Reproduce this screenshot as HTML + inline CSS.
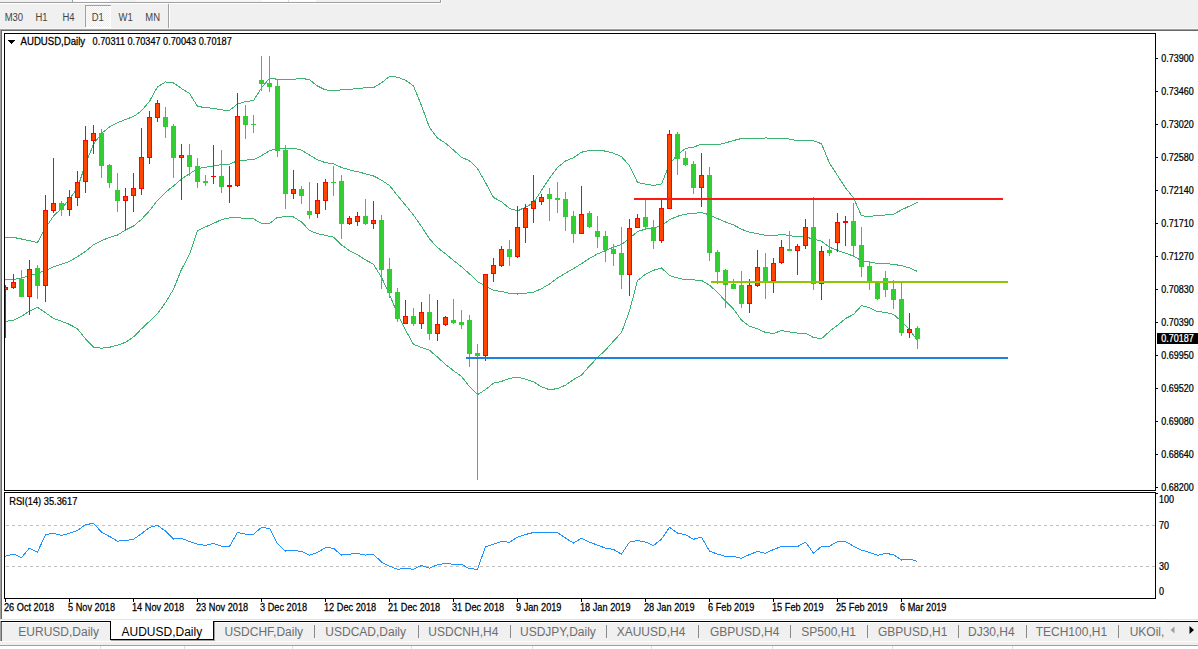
<!DOCTYPE html>
<html><head><meta charset="utf-8"><title>AUDUSD,Daily</title>
<style>
html,body{margin:0;padding:0;background:#f0f0f0;}
body{width:1198px;height:649px;overflow:hidden;position:relative;}
svg{position:absolute;left:0;top:0;display:block;}
text{font-family:'Liberation Sans', Arial, sans-serif;}
</style></head><body>
<svg width="1198" height="649" viewBox="0 0 1198 649" shape-rendering="crispEdges">
<rect x="0" y="0" width="1198" height="29" fill="#f0f0f0"/>
<rect x="0" y="2" width="441" height="1" fill="#a0a0a0"/>
<rect x="0" y="3" width="442" height="1" fill="#ffffff"/>
<rect x="440" y="0" width="1" height="3" fill="#a0a0a0"/>
<rect x="441" y="0" width="1" height="4" fill="#ffffff"/>
<rect x="72" y="0" width="1" height="2" fill="#a0a0a0"/>
<rect x="73" y="0" width="37" height="2" fill="#fbfbfb"/>
<rect x="136" y="0" width="126" height="2" fill="#f6f6f6"/>
<rect x="262" y="0" width="54" height="2" fill="#fdfdfd"/>
<rect x="288" y="0" width="1" height="2" fill="#d8d8d8"/>
<defs><pattern id="chk" x="0" y="0" width="2" height="2" patternUnits="userSpaceOnUse"><rect width="2" height="2" fill="#ffffff"/><rect width="1" height="1" fill="#ececec"/><rect x="1" y="1" width="1" height="1" fill="#ececec"/></pattern></defs>
<rect x="86" y="6" width="25" height="21" fill="url(#chk)"/>
<rect x="85" y="5" width="26" height="1" fill="#a0a0a0"/>
<rect x="85" y="5" width="1" height="22" fill="#a0a0a0"/>
<rect x="86" y="27" width="25" height="1" fill="#ffffff"/>
<rect x="110" y="6" width="1" height="21" fill="#ffffff"/>
<rect x="168" y="4" width="1" height="25" fill="#a0a0a0"/>
<rect x="169" y="4" width="1" height="25" fill="#ffffff"/>
<text transform="translate(4.7,21) scale(0.93,1)" font-size="10.2" fill="#444444" text-anchor="start" >M30</text>
<text transform="translate(35.5,21) scale(0.93,1)" font-size="10.2" fill="#444444" text-anchor="start" >H1</text>
<text transform="translate(62.5,21) scale(0.93,1)" font-size="10.2" fill="#444444" text-anchor="start" >H4</text>
<text transform="translate(91.7,21) scale(0.93,1)" font-size="10.2" fill="#444444" text-anchor="start" >D1</text>
<text transform="translate(118.5,21) scale(0.93,1)" font-size="10.2" fill="#444444" text-anchor="start" >W1</text>
<text transform="translate(145.3,21) scale(0.93,1)" font-size="10.2" fill="#444444" text-anchor="start" >MN</text>
<rect x="0" y="28" width="1198" height="1" fill="#f8f8f8"/>
<rect x="0" y="29" width="1198" height="1" fill="#a0a0a0"/>
<rect x="1" y="30" width="1197" height="1" fill="#696969"/>
<rect x="0" y="29" width="1" height="591" fill="#a0a0a0"/>
<rect x="1" y="30" width="1" height="589" fill="#696969"/>
<rect x="2" y="31" width="1196" height="588" fill="#ffffff"/>
<rect x="4" y="33" width="1152" height="1" fill="#000"/>
<rect x="4" y="490" width="1152" height="1" fill="#000"/>
<rect x="4" y="33" width="1" height="458" fill="#000"/>
<rect x="1155" y="33" width="1" height="458" fill="#000"/>
<rect x="4" y="492" width="1152" height="1" fill="#000"/>
<rect x="4" y="598" width="1152" height="1" fill="#000"/>
<rect x="4" y="492" width="1" height="107" fill="#000"/>
<rect x="1155" y="492" width="1" height="107" fill="#000"/>
<defs><clipPath id="cm"><rect x="5" y="34" width="1150" height="456"/></clipPath><clipPath id="cr"><rect x="5" y="493" width="1150" height="105"/></clipPath></defs>
<g clip-path="url(#cm)">
<polyline points="-2.5,237.4 5.5,237.4 13.5,237.4 21.5,239.0 29.5,240.7 37.5,242.5 45.5,228.0 53.5,216.0 61.5,208.5 69.5,199.0 77.5,188.0 85.5,164.0 93.5,144.4 101.5,133.5 109.5,126.9 117.5,122.8 125.5,119.4 133.5,116.6 141.5,110.9 149.5,101.3 157.5,86.9 165.5,81.9 173.5,82.9 181.5,88.5 189.5,93.4 197.5,106.4 205.5,107.6 213.5,108.3 221.5,109.9 229.5,110.5 237.5,103.9 245.5,101.7 253.5,100.5 261.5,87.9 269.5,78.1 277.5,79.3 285.5,79.5 293.5,79.4 301.5,78.3 309.5,79.7 317.5,86.1 325.5,89.9 333.5,90.7 341.5,89.8 349.5,89.3 357.5,88.6 365.5,87.7 373.5,87.6 381.5,82.8 389.5,76.5 397.5,77.1 405.5,80.3 413.5,85.9 421.5,105.6 429.5,127.5 437.5,138.0 445.5,143.1 453.5,150.1 461.5,157.3 469.5,160.8 477.5,168.5 485.5,182.6 493.5,197.4 501.5,201.7 509.5,208.4 517.5,210.9 525.5,207.2 533.5,202.8 541.5,190.4 549.5,178.2 557.5,167.5 565.5,160.9 573.5,157.7 581.5,152.2 589.5,150.6 597.5,150.3 605.5,151.1 613.5,153.2 621.5,156.6 629.5,165.8 637.5,182.4 645.5,184.1 653.5,185.5 661.5,183.9 669.5,164.0 677.5,154.6 685.5,148.5 693.5,147.1 701.5,144.2 709.5,145.0 717.5,144.9 725.5,142.9 733.5,140.5 741.5,138.5 749.5,138.2 757.5,138.5 765.5,138.0 773.5,138.1 781.5,138.2 789.5,139.1 797.5,140.7 805.5,140.7 813.5,140.7 821.5,143.8 829.5,163.0 837.5,175.5 845.5,187.8 853.5,197.8 861.5,215.8 869.5,216.5 877.5,215.3 885.5,215.0 893.5,214.2 901.5,209.9 909.5,206.1 917.5,202.4" fill="none" stroke="#3cb371" stroke-width="1" shape-rendering="crispEdges"/>
<polyline points="-2.5,279.4 5.5,279.4 13.5,279.4 21.5,278.1 29.5,275.4 37.5,273.4 45.5,270.5 53.5,266.8 61.5,264.1 69.5,261.4 77.5,256.7 85.5,251.4 93.5,244.7 101.5,240.7 109.5,237.4 117.5,235.0 125.5,230.0 133.5,226.0 141.5,219.4 149.5,210.7 157.5,200.3 165.5,192.3 173.5,186.0 181.5,179.0 189.5,173.8 197.5,168.6 205.5,167.2 213.5,165.9 221.5,164.7 229.5,164.1 237.5,160.8 245.5,160.1 253.5,159.7 261.5,155.6 269.5,150.8 277.5,148.3 285.5,148.2 293.5,148.2 301.5,150.2 309.5,155.0 317.5,159.9 325.5,162.7 333.5,163.9 341.5,167.4 349.5,169.9 357.5,171.7 365.5,173.8 373.5,176.0 381.5,180.1 389.5,185.5 397.5,195.6 405.5,205.2 413.5,215.1 421.5,226.5 429.5,238.9 437.5,247.6 445.5,253.7 453.5,260.4 461.5,266.8 469.5,273.8 477.5,281.6 485.5,286.2 493.5,290.3 501.5,291.5 509.5,293.4 517.5,294.0 525.5,293.2 533.5,292.3 541.5,288.7 549.5,284.0 557.5,278.0 565.5,273.1 573.5,268.6 581.5,263.6 589.5,258.3 597.5,253.9 605.5,250.6 613.5,247.1 621.5,244.6 629.5,238.4 637.5,231.5 645.5,229.1 653.5,227.9 661.5,225.9 669.5,219.8 677.5,216.3 685.5,214.1 693.5,213.5 701.5,212.4 709.5,215.0 717.5,218.6 725.5,222.0 733.5,224.8 741.5,229.3 749.5,232.2 757.5,233.7 765.5,235.3 773.5,235.8 781.5,234.4 789.5,235.5 797.5,236.9 805.5,236.9 813.5,239.1 821.5,241.2 829.5,247.2 837.5,250.4 845.5,253.2 853.5,256.1 861.5,260.7 869.5,262.1 877.5,263.5 885.5,263.7 893.5,264.3 901.5,265.7 909.5,267.9 917.5,271.5" fill="none" stroke="#3cb371" stroke-width="1" shape-rendering="crispEdges"/>
<polyline points="-2.5,321.3 5.5,321.3 13.5,320.3 21.5,316.2 29.5,311.2 37.5,307.2 45.5,312.8 53.5,318.3 61.5,321.3 69.5,324.4 77.5,328.8 85.5,338.8 93.5,347.2 101.5,348.2 109.5,347.3 117.5,345.1 125.5,342.3 133.5,336.9 141.5,328.8 149.5,321.3 157.5,313.7 165.5,302.6 173.5,289.2 181.5,269.4 189.5,254.3 197.5,230.8 205.5,226.9 213.5,223.4 221.5,219.6 229.5,217.8 237.5,217.7 245.5,218.4 253.5,218.9 261.5,223.3 269.5,223.5 277.5,217.3 285.5,216.8 293.5,217.0 301.5,222.0 309.5,230.4 317.5,233.7 325.5,235.4 333.5,237.2 341.5,245.0 349.5,250.6 357.5,254.8 365.5,259.8 373.5,264.3 381.5,277.4 389.5,294.4 397.5,314.1 405.5,330.0 413.5,344.4 421.5,347.5 429.5,350.3 437.5,357.1 445.5,364.4 453.5,370.7 461.5,376.4 469.5,386.8 477.5,394.6 485.5,389.7 493.5,383.1 501.5,381.4 509.5,378.4 517.5,377.1 525.5,379.2 533.5,381.8 541.5,386.9 549.5,389.7 557.5,388.6 565.5,385.2 573.5,379.5 581.5,375.1 589.5,366.0 597.5,357.6 605.5,350.1 613.5,341.1 621.5,332.6 629.5,311.0 637.5,280.6 645.5,274.2 653.5,270.3 661.5,267.9 669.5,275.5 677.5,278.0 685.5,279.7 693.5,279.9 701.5,280.5 709.5,285.1 717.5,292.4 725.5,301.2 733.5,309.1 741.5,320.1 749.5,326.2 757.5,328.9 765.5,332.5 773.5,333.4 781.5,330.6 789.5,332.0 797.5,333.1 805.5,333.1 813.5,337.5 821.5,338.7 829.5,331.4 837.5,325.2 845.5,318.6 853.5,314.4 861.5,305.6 869.5,307.7 877.5,311.6 885.5,312.4 893.5,314.3 901.5,321.5 909.5,329.7 917.5,340.6" fill="none" stroke="#3cb371" stroke-width="1" shape-rendering="crispEdges"/>
<rect x="5" y="285" width="1" height="53" fill="#ff0000"/>
<rect x="3" y="287" width="5" height="3" fill="#ff0000"/>
<rect x="4" y="288" width="3" height="1" fill="#ff4500"/>
<rect x="13" y="274" width="1" height="15" fill="#ff0000"/>
<rect x="11" y="282" width="5" height="6" fill="#ff0000"/>
<rect x="12" y="283" width="3" height="4" fill="#ff4500"/>
<rect x="21" y="270" width="1" height="27" fill="#32cd32"/>
<rect x="19" y="279" width="5" height="18" fill="#32cd32"/>
<rect x="29" y="260" width="1" height="55" fill="#ff0000"/>
<rect x="27" y="269" width="5" height="28" fill="#ff0000"/>
<rect x="28" y="270" width="3" height="26" fill="#ff4500"/>
<rect x="37" y="265" width="1" height="34" fill="#32cd32"/>
<rect x="35" y="268" width="5" height="18" fill="#32cd32"/>
<rect x="45" y="195" width="1" height="107" fill="#ff0000"/>
<rect x="43" y="210" width="5" height="76" fill="#ff0000"/>
<rect x="44" y="211" width="3" height="74" fill="#ff4500"/>
<rect x="53" y="158" width="1" height="55" fill="#ff0000"/>
<rect x="51" y="203" width="5" height="8" fill="#ff0000"/>
<rect x="52" y="204" width="3" height="6" fill="#ff4500"/>
<rect x="61" y="201" width="1" height="15" fill="#32cd32"/>
<rect x="59" y="203" width="5" height="7" fill="#32cd32"/>
<rect x="69" y="190" width="1" height="26" fill="#ff0000"/>
<rect x="67" y="197" width="5" height="13" fill="#ff0000"/>
<rect x="68" y="198" width="3" height="11" fill="#ff4500"/>
<rect x="77" y="171" width="1" height="35" fill="#ff0000"/>
<rect x="75" y="182" width="5" height="16" fill="#ff0000"/>
<rect x="76" y="183" width="3" height="14" fill="#ff4500"/>
<rect x="85" y="126" width="1" height="67" fill="#ff0000"/>
<rect x="83" y="140" width="5" height="42" fill="#ff0000"/>
<rect x="84" y="141" width="3" height="40" fill="#ff4500"/>
<rect x="93" y="125" width="1" height="29" fill="#ff0000"/>
<rect x="91" y="133" width="5" height="8" fill="#ff0000"/>
<rect x="92" y="134" width="3" height="6" fill="#ff4500"/>
<rect x="101" y="129" width="1" height="49" fill="#32cd32"/>
<rect x="99" y="133" width="5" height="33" fill="#32cd32"/>
<rect x="109" y="164" width="1" height="24" fill="#32cd32"/>
<rect x="107" y="165" width="5" height="18" fill="#32cd32"/>
<rect x="117" y="173" width="1" height="39" fill="#32cd32"/>
<rect x="115" y="190" width="5" height="11" fill="#32cd32"/>
<rect x="125" y="188" width="1" height="42" fill="#ff0000"/>
<rect x="123" y="196" width="5" height="5" fill="#ff0000"/>
<rect x="124" y="197" width="3" height="3" fill="#ff4500"/>
<rect x="133" y="173" width="1" height="39" fill="#ff0000"/>
<rect x="131" y="188" width="5" height="8" fill="#ff0000"/>
<rect x="132" y="189" width="3" height="6" fill="#ff4500"/>
<rect x="141" y="128" width="1" height="67" fill="#ff0000"/>
<rect x="139" y="157" width="5" height="32" fill="#ff0000"/>
<rect x="140" y="158" width="3" height="30" fill="#ff4500"/>
<rect x="149" y="111" width="1" height="53" fill="#ff0000"/>
<rect x="147" y="117" width="5" height="41" fill="#ff0000"/>
<rect x="148" y="118" width="3" height="39" fill="#ff4500"/>
<rect x="157" y="100" width="1" height="22" fill="#ff0000"/>
<rect x="155" y="103" width="5" height="15" fill="#ff0000"/>
<rect x="156" y="104" width="3" height="13" fill="#ff4500"/>
<rect x="165" y="107" width="1" height="31" fill="#32cd32"/>
<rect x="163" y="117" width="5" height="10" fill="#32cd32"/>
<rect x="173" y="124" width="1" height="54" fill="#32cd32"/>
<rect x="171" y="126" width="5" height="32" fill="#32cd32"/>
<rect x="181" y="144" width="1" height="56" fill="#ff0000"/>
<rect x="179" y="155" width="5" height="3" fill="#ff0000"/>
<rect x="180" y="156" width="3" height="1" fill="#ff4500"/>
<rect x="189" y="144" width="1" height="32" fill="#32cd32"/>
<rect x="187" y="155" width="5" height="12" fill="#32cd32"/>
<rect x="197" y="158" width="1" height="30" fill="#32cd32"/>
<rect x="195" y="166" width="5" height="16" fill="#32cd32"/>
<rect x="205" y="175" width="1" height="11" fill="#32cd32"/>
<rect x="203" y="181" width="5" height="2" fill="#32cd32"/>
<rect x="213" y="145" width="1" height="39" fill="#ff0000"/>
<rect x="211" y="176" width="5" height="1" fill="#ff0000"/>
<rect x="221" y="150" width="1" height="43" fill="#32cd32"/>
<rect x="219" y="176" width="5" height="11" fill="#32cd32"/>
<rect x="229" y="166" width="1" height="37" fill="#ff0000"/>
<rect x="227" y="185" width="5" height="2" fill="#ff0000"/>
<rect x="237" y="93" width="1" height="94" fill="#ff0000"/>
<rect x="235" y="116" width="5" height="70" fill="#ff0000"/>
<rect x="236" y="117" width="3" height="68" fill="#ff4500"/>
<rect x="245" y="105" width="1" height="34" fill="#32cd32"/>
<rect x="243" y="116" width="5" height="9" fill="#32cd32"/>
<rect x="253" y="115" width="1" height="18" fill="#32cd32"/>
<rect x="251" y="124" width="5" height="1" fill="#32cd32"/>
<rect x="261" y="56" width="1" height="35" fill="#32cd32"/>
<rect x="259" y="80" width="5" height="4" fill="#32cd32"/>
<rect x="269" y="56" width="1" height="36" fill="#32cd32"/>
<rect x="267" y="83" width="5" height="4" fill="#32cd32"/>
<rect x="277" y="79" width="1" height="78" fill="#32cd32"/>
<rect x="275" y="86" width="5" height="65" fill="#32cd32"/>
<rect x="285" y="145" width="1" height="64" fill="#32cd32"/>
<rect x="283" y="150" width="5" height="44" fill="#32cd32"/>
<rect x="293" y="170" width="1" height="29" fill="#ff0000"/>
<rect x="291" y="189" width="5" height="5" fill="#ff0000"/>
<rect x="292" y="190" width="3" height="3" fill="#ff4500"/>
<rect x="301" y="186" width="1" height="18" fill="#32cd32"/>
<rect x="299" y="189" width="5" height="7" fill="#32cd32"/>
<rect x="309" y="182" width="1" height="37" fill="#32cd32"/>
<rect x="307" y="211" width="5" height="4" fill="#32cd32"/>
<rect x="317" y="183" width="1" height="35" fill="#ff0000"/>
<rect x="315" y="200" width="5" height="14" fill="#ff0000"/>
<rect x="316" y="201" width="3" height="12" fill="#ff4500"/>
<rect x="325" y="179" width="1" height="31" fill="#ff0000"/>
<rect x="323" y="182" width="5" height="19" fill="#ff0000"/>
<rect x="324" y="183" width="3" height="17" fill="#ff4500"/>
<rect x="333" y="166" width="1" height="30" fill="#32cd32"/>
<rect x="331" y="182" width="5" height="1" fill="#32cd32"/>
<rect x="341" y="175" width="1" height="64" fill="#32cd32"/>
<rect x="339" y="181" width="5" height="43" fill="#32cd32"/>
<rect x="349" y="216" width="1" height="9" fill="#ff0000"/>
<rect x="347" y="218" width="5" height="6" fill="#ff0000"/>
<rect x="348" y="219" width="3" height="4" fill="#ff4500"/>
<rect x="357" y="212" width="1" height="14" fill="#ff0000"/>
<rect x="355" y="216" width="5" height="6" fill="#ff0000"/>
<rect x="356" y="217" width="3" height="4" fill="#ff4500"/>
<rect x="365" y="199" width="1" height="26" fill="#32cd32"/>
<rect x="363" y="216" width="5" height="8" fill="#32cd32"/>
<rect x="373" y="201" width="1" height="28" fill="#ff0000"/>
<rect x="371" y="220" width="5" height="4" fill="#ff0000"/>
<rect x="372" y="221" width="3" height="2" fill="#ff4500"/>
<rect x="381" y="215" width="1" height="74" fill="#32cd32"/>
<rect x="379" y="220" width="5" height="50" fill="#32cd32"/>
<rect x="389" y="258" width="1" height="40" fill="#32cd32"/>
<rect x="387" y="269" width="5" height="24" fill="#32cd32"/>
<rect x="397" y="288" width="1" height="34" fill="#32cd32"/>
<rect x="395" y="292" width="5" height="27" fill="#32cd32"/>
<rect x="405" y="300" width="1" height="24" fill="#ff0000"/>
<rect x="403" y="316" width="5" height="8" fill="#ff0000"/>
<rect x="404" y="317" width="3" height="6" fill="#ff4500"/>
<rect x="413" y="308" width="1" height="18" fill="#32cd32"/>
<rect x="411" y="316" width="5" height="8" fill="#32cd32"/>
<rect x="421" y="302" width="1" height="27" fill="#ff0000"/>
<rect x="419" y="312" width="5" height="12" fill="#ff0000"/>
<rect x="420" y="313" width="3" height="10" fill="#ff4500"/>
<rect x="429" y="294" width="1" height="46" fill="#32cd32"/>
<rect x="427" y="312" width="5" height="22" fill="#32cd32"/>
<rect x="437" y="300" width="1" height="41" fill="#ff0000"/>
<rect x="435" y="324" width="5" height="10" fill="#ff0000"/>
<rect x="436" y="325" width="3" height="8" fill="#ff4500"/>
<rect x="445" y="316" width="1" height="10" fill="#ff0000"/>
<rect x="443" y="317" width="5" height="8" fill="#ff0000"/>
<rect x="444" y="318" width="3" height="6" fill="#ff4500"/>
<rect x="453" y="299" width="1" height="25" fill="#32cd32"/>
<rect x="451" y="320" width="5" height="3" fill="#32cd32"/>
<rect x="461" y="310" width="1" height="19" fill="#32cd32"/>
<rect x="459" y="322" width="5" height="3" fill="#32cd32"/>
<rect x="469" y="315" width="1" height="52" fill="#32cd32"/>
<rect x="467" y="320" width="5" height="34" fill="#32cd32"/>
<rect x="477" y="344" width="1" height="136" fill="#32cd32"/>
<rect x="475" y="353" width="5" height="3" fill="#32cd32"/>
<rect x="485" y="274" width="1" height="87" fill="#ff0000"/>
<rect x="483" y="274" width="5" height="82" fill="#ff0000"/>
<rect x="484" y="275" width="3" height="80" fill="#ff4500"/>
<rect x="493" y="258" width="1" height="24" fill="#ff0000"/>
<rect x="491" y="265" width="5" height="9" fill="#ff0000"/>
<rect x="492" y="266" width="3" height="7" fill="#ff4500"/>
<rect x="501" y="246" width="1" height="21" fill="#ff0000"/>
<rect x="499" y="249" width="5" height="17" fill="#ff0000"/>
<rect x="500" y="250" width="3" height="15" fill="#ff4500"/>
<rect x="509" y="240" width="1" height="26" fill="#32cd32"/>
<rect x="507" y="249" width="5" height="8" fill="#32cd32"/>
<rect x="517" y="206" width="1" height="52" fill="#ff0000"/>
<rect x="515" y="227" width="5" height="30" fill="#ff0000"/>
<rect x="516" y="228" width="3" height="28" fill="#ff4500"/>
<rect x="525" y="204" width="1" height="39" fill="#ff0000"/>
<rect x="523" y="208" width="5" height="20" fill="#ff0000"/>
<rect x="524" y="209" width="3" height="18" fill="#ff4500"/>
<rect x="533" y="175" width="1" height="48" fill="#ff0000"/>
<rect x="531" y="201" width="5" height="8" fill="#ff0000"/>
<rect x="532" y="202" width="3" height="6" fill="#ff4500"/>
<rect x="541" y="194" width="1" height="11" fill="#ff0000"/>
<rect x="539" y="197" width="5" height="5" fill="#ff0000"/>
<rect x="540" y="198" width="3" height="3" fill="#ff4500"/>
<rect x="549" y="188" width="1" height="33" fill="#32cd32"/>
<rect x="547" y="194" width="5" height="5" fill="#32cd32"/>
<rect x="557" y="182" width="1" height="31" fill="#32cd32"/>
<rect x="555" y="198" width="5" height="2" fill="#32cd32"/>
<rect x="565" y="192" width="1" height="39" fill="#32cd32"/>
<rect x="563" y="199" width="5" height="18" fill="#32cd32"/>
<rect x="573" y="211" width="1" height="32" fill="#32cd32"/>
<rect x="571" y="216" width="5" height="18" fill="#32cd32"/>
<rect x="581" y="186" width="1" height="48" fill="#ff0000"/>
<rect x="579" y="214" width="5" height="20" fill="#ff0000"/>
<rect x="580" y="215" width="3" height="18" fill="#ff4500"/>
<rect x="589" y="211" width="1" height="17" fill="#32cd32"/>
<rect x="587" y="213" width="5" height="14" fill="#32cd32"/>
<rect x="597" y="216" width="1" height="32" fill="#32cd32"/>
<rect x="595" y="231" width="5" height="6" fill="#32cd32"/>
<rect x="605" y="231" width="1" height="31" fill="#32cd32"/>
<rect x="603" y="236" width="5" height="14" fill="#32cd32"/>
<rect x="613" y="244" width="1" height="22" fill="#32cd32"/>
<rect x="611" y="249" width="5" height="5" fill="#32cd32"/>
<rect x="621" y="227" width="1" height="62" fill="#32cd32"/>
<rect x="619" y="253" width="5" height="22" fill="#32cd32"/>
<rect x="629" y="219" width="1" height="77" fill="#ff0000"/>
<rect x="627" y="228" width="5" height="47" fill="#ff0000"/>
<rect x="628" y="229" width="3" height="45" fill="#ff4500"/>
<rect x="637" y="214" width="1" height="14" fill="#ff0000"/>
<rect x="635" y="218" width="5" height="10" fill="#ff0000"/>
<rect x="636" y="219" width="3" height="8" fill="#ff4500"/>
<rect x="645" y="200" width="1" height="29" fill="#32cd32"/>
<rect x="643" y="217" width="5" height="10" fill="#32cd32"/>
<rect x="653" y="220" width="1" height="29" fill="#32cd32"/>
<rect x="651" y="227" width="5" height="14" fill="#32cd32"/>
<rect x="661" y="199" width="1" height="44" fill="#ff0000"/>
<rect x="659" y="208" width="5" height="33" fill="#ff0000"/>
<rect x="660" y="209" width="3" height="31" fill="#ff4500"/>
<rect x="669" y="130" width="1" height="79" fill="#ff0000"/>
<rect x="667" y="134" width="5" height="75" fill="#ff0000"/>
<rect x="668" y="135" width="3" height="73" fill="#ff4500"/>
<rect x="677" y="132" width="1" height="43" fill="#32cd32"/>
<rect x="675" y="134" width="5" height="25" fill="#32cd32"/>
<rect x="685" y="151" width="1" height="15" fill="#32cd32"/>
<rect x="683" y="158" width="5" height="7" fill="#32cd32"/>
<rect x="693" y="161" width="1" height="33" fill="#32cd32"/>
<rect x="691" y="164" width="5" height="24" fill="#32cd32"/>
<rect x="701" y="153" width="1" height="54" fill="#ff0000"/>
<rect x="699" y="175" width="5" height="13" fill="#ff0000"/>
<rect x="700" y="176" width="3" height="11" fill="#ff4500"/>
<rect x="709" y="167" width="1" height="94" fill="#32cd32"/>
<rect x="707" y="175" width="5" height="78" fill="#32cd32"/>
<rect x="717" y="250" width="1" height="34" fill="#32cd32"/>
<rect x="715" y="252" width="5" height="20" fill="#32cd32"/>
<rect x="725" y="269" width="1" height="39" fill="#32cd32"/>
<rect x="723" y="270" width="5" height="15" fill="#32cd32"/>
<rect x="733" y="279" width="1" height="10" fill="#32cd32"/>
<rect x="731" y="284" width="5" height="5" fill="#32cd32"/>
<rect x="741" y="271" width="1" height="37" fill="#32cd32"/>
<rect x="739" y="285" width="5" height="19" fill="#32cd32"/>
<rect x="749" y="279" width="1" height="34" fill="#ff0000"/>
<rect x="747" y="285" width="5" height="19" fill="#ff0000"/>
<rect x="748" y="286" width="3" height="17" fill="#ff4500"/>
<rect x="757" y="250" width="1" height="37" fill="#ff0000"/>
<rect x="755" y="267" width="5" height="19" fill="#ff0000"/>
<rect x="756" y="268" width="3" height="17" fill="#ff4500"/>
<rect x="765" y="253" width="1" height="46" fill="#32cd32"/>
<rect x="763" y="267" width="5" height="14" fill="#32cd32"/>
<rect x="773" y="258" width="1" height="35" fill="#ff0000"/>
<rect x="771" y="263" width="5" height="18" fill="#ff0000"/>
<rect x="772" y="264" width="3" height="16" fill="#ff4500"/>
<rect x="781" y="240" width="1" height="24" fill="#ff0000"/>
<rect x="779" y="247" width="5" height="16" fill="#ff0000"/>
<rect x="780" y="248" width="3" height="14" fill="#ff4500"/>
<rect x="789" y="231" width="1" height="20" fill="#32cd32"/>
<rect x="787" y="249" width="5" height="2" fill="#32cd32"/>
<rect x="797" y="244" width="1" height="31" fill="#ff0000"/>
<rect x="795" y="246" width="5" height="5" fill="#ff0000"/>
<rect x="796" y="247" width="3" height="3" fill="#ff4500"/>
<rect x="805" y="219" width="1" height="30" fill="#ff0000"/>
<rect x="803" y="227" width="5" height="19" fill="#ff0000"/>
<rect x="804" y="228" width="3" height="17" fill="#ff4500"/>
<rect x="813" y="197" width="1" height="93" fill="#32cd32"/>
<rect x="811" y="227" width="5" height="57" fill="#32cd32"/>
<rect x="821" y="246" width="1" height="54" fill="#ff0000"/>
<rect x="819" y="251" width="5" height="33" fill="#ff0000"/>
<rect x="820" y="252" width="3" height="31" fill="#ff4500"/>
<rect x="829" y="239" width="1" height="17" fill="#32cd32"/>
<rect x="827" y="250" width="5" height="3" fill="#32cd32"/>
<rect x="837" y="213" width="1" height="39" fill="#ff0000"/>
<rect x="835" y="222" width="5" height="21" fill="#ff0000"/>
<rect x="836" y="223" width="3" height="19" fill="#ff4500"/>
<rect x="845" y="216" width="1" height="30" fill="#ff0000"/>
<rect x="843" y="221" width="5" height="2" fill="#ff0000"/>
<rect x="853" y="203" width="1" height="53" fill="#32cd32"/>
<rect x="851" y="221" width="5" height="25" fill="#32cd32"/>
<rect x="861" y="227" width="1" height="50" fill="#32cd32"/>
<rect x="859" y="245" width="5" height="22" fill="#32cd32"/>
<rect x="869" y="261" width="1" height="29" fill="#32cd32"/>
<rect x="867" y="266" width="5" height="15" fill="#32cd32"/>
<rect x="877" y="281" width="1" height="19" fill="#32cd32"/>
<rect x="875" y="283" width="5" height="16" fill="#32cd32"/>
<rect x="885" y="271" width="1" height="26" fill="#32cd32"/>
<rect x="883" y="278" width="5" height="12" fill="#32cd32"/>
<rect x="893" y="280" width="1" height="29" fill="#32cd32"/>
<rect x="891" y="289" width="5" height="11" fill="#32cd32"/>
<rect x="901" y="283" width="1" height="53" fill="#32cd32"/>
<rect x="899" y="299" width="5" height="34" fill="#32cd32"/>
<rect x="909" y="313" width="1" height="25" fill="#ff0000"/>
<rect x="907" y="329" width="5" height="4" fill="#ff0000"/>
<rect x="908" y="330" width="3" height="2" fill="#ff4500"/>
<rect x="917" y="326" width="1" height="23" fill="#32cd32"/>
<rect x="915" y="328" width="5" height="11" fill="#32cd32"/>
</g>
<rect x="634" y="198" width="369" height="2" fill="#ff1a1a"/>
<rect x="711" y="281" width="297" height="2" fill="#8fc400"/>
<rect x="466" y="357" width="542" height="2" fill="#1e82dc"/>
<path d="M8,40 L15,40 L11.5,44 Z" fill="#000"/>
<text transform="translate(20.6,45) scale(0.96,1)" font-size="10.0" fill="#000" text-anchor="start" stroke="#000" stroke-width="0.25">AUDUSD,Daily</text>
<text transform="translate(92.6,45) scale(0.915,1)" font-size="10.0" fill="#000" text-anchor="start" stroke="#000" stroke-width="0.25">0.70311 0.70347 0.70043 0.70187</text>
<rect x="1156" y="58" width="2" height="1" fill="#000"/>
<text transform="translate(1161.2,62) scale(0.9,1)" font-size="10.0" fill="#000" text-anchor="start" stroke="#000" stroke-width="0.25">0.73900</text>
<rect x="1156" y="91" width="2" height="1" fill="#000"/>
<text transform="translate(1161.2,95) scale(0.9,1)" font-size="10.0" fill="#000" text-anchor="start" stroke="#000" stroke-width="0.25">0.73460</text>
<rect x="1156" y="124" width="2" height="1" fill="#000"/>
<text transform="translate(1161.2,128) scale(0.9,1)" font-size="10.0" fill="#000" text-anchor="start" stroke="#000" stroke-width="0.25">0.73020</text>
<rect x="1156" y="157" width="2" height="1" fill="#000"/>
<text transform="translate(1161.2,161) scale(0.9,1)" font-size="10.0" fill="#000" text-anchor="start" stroke="#000" stroke-width="0.25">0.72580</text>
<rect x="1156" y="190" width="2" height="1" fill="#000"/>
<text transform="translate(1161.2,194) scale(0.9,1)" font-size="10.0" fill="#000" text-anchor="start" stroke="#000" stroke-width="0.25">0.72140</text>
<rect x="1156" y="223" width="2" height="1" fill="#000"/>
<text transform="translate(1161.2,227) scale(0.9,1)" font-size="10.0" fill="#000" text-anchor="start" stroke="#000" stroke-width="0.25">0.71710</text>
<rect x="1156" y="256" width="2" height="1" fill="#000"/>
<text transform="translate(1161.2,260) scale(0.9,1)" font-size="10.0" fill="#000" text-anchor="start" stroke="#000" stroke-width="0.25">0.71270</text>
<rect x="1156" y="289" width="2" height="1" fill="#000"/>
<text transform="translate(1161.2,293) scale(0.9,1)" font-size="10.0" fill="#000" text-anchor="start" stroke="#000" stroke-width="0.25">0.70830</text>
<rect x="1156" y="322" width="2" height="1" fill="#000"/>
<text transform="translate(1161.2,326) scale(0.9,1)" font-size="10.0" fill="#000" text-anchor="start" stroke="#000" stroke-width="0.25">0.70390</text>
<rect x="1156" y="355" width="2" height="1" fill="#000"/>
<text transform="translate(1161.2,359) scale(0.9,1)" font-size="10.0" fill="#000" text-anchor="start" stroke="#000" stroke-width="0.25">0.69950</text>
<rect x="1156" y="388" width="2" height="1" fill="#000"/>
<text transform="translate(1161.2,392) scale(0.9,1)" font-size="10.0" fill="#000" text-anchor="start" stroke="#000" stroke-width="0.25">0.69520</text>
<rect x="1156" y="421" width="2" height="1" fill="#000"/>
<text transform="translate(1161.2,425) scale(0.9,1)" font-size="10.0" fill="#000" text-anchor="start" stroke="#000" stroke-width="0.25">0.69080</text>
<rect x="1156" y="454" width="2" height="1" fill="#000"/>
<text transform="translate(1161.2,458) scale(0.9,1)" font-size="10.0" fill="#000" text-anchor="start" stroke="#000" stroke-width="0.25">0.68640</text>
<rect x="1156" y="487" width="2" height="1" fill="#000"/>
<text transform="translate(1161.2,491) scale(0.9,1)" font-size="10.0" fill="#000" text-anchor="start" stroke="#000" stroke-width="0.25">0.68200</text>
<rect x="1157" y="333" width="41" height="11" fill="#000"/>
<text transform="translate(1161.2,342) scale(0.9,1)" font-size="10.0" fill="#fff" text-anchor="start" stroke="#fff" stroke-width="0.25">0.70187</text>
<line x1="6" y1="525.5" x2="1155" y2="525.5" stroke="#c0c0c0" stroke-width="1" stroke-dasharray="3,3" shape-rendering="crispEdges"/>
<line x1="6" y1="566.5" x2="1155" y2="566.5" stroke="#c0c0c0" stroke-width="1" stroke-dasharray="3,3" shape-rendering="crispEdges"/>
<g clip-path="url(#cr)">
<polyline points="-2.5,557.1 5.5,556.1 13.5,554.1 21.5,557.5 29.5,548.1 37.5,552.1 45.5,534.7 53.5,533.3 61.5,535.3 69.5,533.3 77.5,530.5 85.5,524.6 93.5,523.4 101.5,532.1 109.5,536.5 117.5,541.1 125.5,540.5 133.5,539.3 141.5,533.7 149.5,527.4 157.5,525.4 165.5,531.1 173.5,539.1 181.5,538.3 189.5,541.5 197.5,544.3 205.5,545.3 213.5,543.3 221.5,546.3 229.5,546.3 237.5,532.5 245.5,534.1 253.5,534.3 261.5,527.4 269.5,528.4 277.5,543.7 285.5,551.1 293.5,550.3 301.5,551.5 309.5,555.1 317.5,552.5 325.5,547.5 333.5,548.3 341.5,555.1 349.5,554.1 357.5,553.5 365.5,555.1 373.5,554.3 381.5,562.1 389.5,566.1 397.5,569.3 405.5,568.5 413.5,569.3 421.5,565.5 429.5,568.3 437.5,564.7 445.5,563.5 453.5,564.3 461.5,564.3 469.5,568.9 477.5,569.1 485.5,546.7 493.5,544.3 501.5,541.5 509.5,542.3 517.5,537.1 525.5,534.5 533.5,532.5 541.5,532.5 549.5,532.5 557.5,532.5 565.5,538.1 573.5,543.1 581.5,538.3 589.5,542.1 597.5,545.1 605.5,548.1 613.5,549.5 621.5,554.1 629.5,542.1 637.5,540.5 645.5,542.1 653.5,545.5 661.5,539.1 669.5,527.4 677.5,533.1 685.5,534.7 693.5,539.3 701.5,537.1 709.5,551.1 717.5,554.1 725.5,556.3 733.5,556.3 741.5,558.3 749.5,554.5 757.5,551.5 765.5,553.3 773.5,549.5 781.5,546.5 789.5,546.5 797.5,546.5 805.5,542.1 813.5,553.1 821.5,546.5 829.5,546.3 837.5,541.5 845.5,541.5 853.5,546.1 861.5,550.1 869.5,552.3 877.5,555.3 885.5,553.3 893.5,554.7 901.5,560.1 909.5,559.1 917.5,561.3" fill="none" stroke="#1e90ff" stroke-width="1" shape-rendering="crispEdges"/>
</g>
<text transform="translate(9.2,505) scale(0.93,1)" font-size="10.0" fill="#000" text-anchor="start" stroke="#000" stroke-width="0.25">RSI(14) 35.3617</text>
<rect x="1156" y="493" width="2" height="1" fill="#000"/>
<text transform="translate(1159,503) scale(0.9,1)" font-size="10.0" fill="#000" text-anchor="start" stroke="#000" stroke-width="0.25">100</text>
<text transform="translate(1159,529) scale(0.9,1)" font-size="10.0" fill="#000" text-anchor="start" stroke="#000" stroke-width="0.25">70</text>
<text transform="translate(1159,570) scale(0.9,1)" font-size="10.0" fill="#000" text-anchor="start" stroke="#000" stroke-width="0.25">30</text>
<text transform="translate(1159,595) scale(0.9,1)" font-size="10.0" fill="#000" text-anchor="start" stroke="#000" stroke-width="0.25">0</text>
<rect x="5" y="599" width="1" height="3" fill="#000"/>
<text transform="translate(4,611) scale(0.92,1)" font-size="10.0" fill="#000" text-anchor="start" stroke="#000" stroke-width="0.25">26 Oct 2018</text>
<rect x="69" y="599" width="1" height="3" fill="#000"/>
<text transform="translate(68,611) scale(0.92,1)" font-size="10.0" fill="#000" text-anchor="start" stroke="#000" stroke-width="0.25">5 Nov 2018</text>
<rect x="133" y="599" width="1" height="3" fill="#000"/>
<text transform="translate(132,611) scale(0.92,1)" font-size="10.0" fill="#000" text-anchor="start" stroke="#000" stroke-width="0.25">14 Nov 2018</text>
<rect x="197" y="599" width="1" height="3" fill="#000"/>
<text transform="translate(196,611) scale(0.92,1)" font-size="10.0" fill="#000" text-anchor="start" stroke="#000" stroke-width="0.25">23 Nov 2018</text>
<rect x="261" y="599" width="1" height="3" fill="#000"/>
<text transform="translate(260,611) scale(0.92,1)" font-size="10.0" fill="#000" text-anchor="start" stroke="#000" stroke-width="0.25">3 Dec 2018</text>
<rect x="325" y="599" width="1" height="3" fill="#000"/>
<text transform="translate(324,611) scale(0.92,1)" font-size="10.0" fill="#000" text-anchor="start" stroke="#000" stroke-width="0.25">12 Dec 2018</text>
<rect x="389" y="599" width="1" height="3" fill="#000"/>
<text transform="translate(388,611) scale(0.92,1)" font-size="10.0" fill="#000" text-anchor="start" stroke="#000" stroke-width="0.25">21 Dec 2018</text>
<rect x="453" y="599" width="1" height="3" fill="#000"/>
<text transform="translate(452,611) scale(0.92,1)" font-size="10.0" fill="#000" text-anchor="start" stroke="#000" stroke-width="0.25">31 Dec 2018</text>
<rect x="517" y="599" width="1" height="3" fill="#000"/>
<text transform="translate(516,611) scale(0.92,1)" font-size="10.0" fill="#000" text-anchor="start" stroke="#000" stroke-width="0.25">9 Jan 2019</text>
<rect x="581" y="599" width="1" height="3" fill="#000"/>
<text transform="translate(580,611) scale(0.92,1)" font-size="10.0" fill="#000" text-anchor="start" stroke="#000" stroke-width="0.25">18 Jan 2019</text>
<rect x="645" y="599" width="1" height="3" fill="#000"/>
<text transform="translate(644,611) scale(0.92,1)" font-size="10.0" fill="#000" text-anchor="start" stroke="#000" stroke-width="0.25">28 Jan 2019</text>
<rect x="709" y="599" width="1" height="3" fill="#000"/>
<text transform="translate(708,611) scale(0.92,1)" font-size="10.0" fill="#000" text-anchor="start" stroke="#000" stroke-width="0.25">6 Feb 2019</text>
<rect x="773" y="599" width="1" height="3" fill="#000"/>
<text transform="translate(772,611) scale(0.92,1)" font-size="10.0" fill="#000" text-anchor="start" stroke="#000" stroke-width="0.25">15 Feb 2019</text>
<rect x="837" y="599" width="1" height="3" fill="#000"/>
<text transform="translate(836,611) scale(0.92,1)" font-size="10.0" fill="#000" text-anchor="start" stroke="#000" stroke-width="0.25">25 Feb 2019</text>
<rect x="901" y="599" width="1" height="3" fill="#000"/>
<text transform="translate(900,611) scale(0.92,1)" font-size="10.0" fill="#000" text-anchor="start" stroke="#000" stroke-width="0.25">6 Mar 2019</text>
<rect x="0" y="619" width="1198" height="1" fill="#e3e3e3"/>
<rect x="0" y="620" width="1198" height="1" fill="#ffffff"/>
<rect x="0" y="621" width="1198" height="20" fill="#f0f0f0"/>
<rect x="0" y="621" width="1198" height="1" fill="#000"/>
<rect x="0" y="622" width="1198" height="1" fill="#ffffff"/>
<rect x="0" y="621" width="1" height="20" fill="#a0a0a0"/>
<rect x="1" y="622" width="1" height="19" fill="#696969"/>
<rect x="110" y="621" width="104" height="19" fill="#fff"/>
<rect x="110" y="621" width="1" height="19" fill="#000"/>
<rect x="213" y="621" width="1" height="19" fill="#000"/>
<rect x="110" y="639" width="104" height="1" fill="#000"/>
<rect x="214" y="622" width="1" height="19" fill="#a0a0a0"/>
<rect x="111" y="640" width="104" height="1" fill="#a0a0a0"/>
<rect x="0" y="641" width="1198" height="4" fill="#f0f0f0"/>
<rect x="0" y="641" width="1198" height="1" fill="#fcfcfc"/>
<rect x="0" y="645" width="1198" height="1" fill="#a0a0a0"/>
<rect x="0" y="646" width="1198" height="3" fill="#ffffff"/>
<rect x="100" y="646" width="1" height="3" fill="#e0e0e0"/>
<rect x="184" y="646" width="1" height="3" fill="#e0e0e0"/>
<rect x="292" y="646" width="1" height="3" fill="#e0e0e0"/>
<rect x="411" y="646" width="1" height="3" fill="#e0e0e0"/>
<rect x="532" y="646" width="1" height="3" fill="#e0e0e0"/>
<rect x="651" y="646" width="1" height="3" fill="#e0e0e0"/>
<rect x="772" y="646" width="1" height="3" fill="#e0e0e0"/>
<rect x="892" y="646" width="1" height="3" fill="#e0e0e0"/>
<rect x="1012" y="646" width="1" height="3" fill="#e0e0e0"/>
<text x="18.3" y="636" font-size="12" fill="#6d6d6d" text-anchor="start" >EURUSD,Daily</text>
<text x="121.5" y="636" font-size="12" fill="#000" text-anchor="start" >AUDUSD,Daily</text>
<text x="224.4" y="636" font-size="12" fill="#6d6d6d" text-anchor="start" >USDCHF,Daily</text>
<rect x="314" y="625" width="1" height="13" fill="#8a8a8a"/>
<text x="325.3" y="636" font-size="12" fill="#6d6d6d" text-anchor="start" >USDCAD,Daily</text>
<rect x="418" y="625" width="1" height="13" fill="#8a8a8a"/>
<text x="428.3" y="636" font-size="12" fill="#6d6d6d" text-anchor="start" >USDCNH,H4</text>
<rect x="510" y="625" width="1" height="13" fill="#8a8a8a"/>
<text x="520" y="636" font-size="12" fill="#6d6d6d" text-anchor="start" >USDJPY,Daily</text>
<rect x="606" y="625" width="1" height="13" fill="#8a8a8a"/>
<text x="616.7" y="636" font-size="12" fill="#6d6d6d" text-anchor="start" >XAUUSD,H4</text>
<rect x="698" y="625" width="1" height="13" fill="#8a8a8a"/>
<text x="710" y="636" font-size="12" fill="#6d6d6d" text-anchor="start" >GBPUSD,H4</text>
<rect x="790" y="625" width="1" height="13" fill="#8a8a8a"/>
<text x="801.3" y="636" font-size="12" fill="#6d6d6d" text-anchor="start" >SP500,H1</text>
<rect x="867" y="625" width="1" height="13" fill="#8a8a8a"/>
<text x="878" y="636" font-size="12" fill="#6d6d6d" text-anchor="start" >GBPUSD,H1</text>
<rect x="958" y="625" width="1" height="13" fill="#8a8a8a"/>
<text x="968" y="636" font-size="12" fill="#6d6d6d" text-anchor="start" >DJ30,H4</text>
<rect x="1026" y="625" width="1" height="13" fill="#8a8a8a"/>
<text x="1035.7" y="636" font-size="12" fill="#6d6d6d" text-anchor="start" >TECH100,H1</text>
<rect x="1118" y="625" width="1" height="13" fill="#8a8a8a"/>
<text x="1129.7" y="636" font-size="12" fill="#6d6d6d" text-anchor="start" >UKOil,</text>
<rect x="1166" y="622" width="32" height="19" fill="#f0f0f0"/>
<path d="M1174.5,626.5 L1170.5,630 L1174.5,633.5 Z" fill="#a0a0a0" shape-rendering="auto"/>
<path d="M1189.5,626 L1194,630 L1189.5,634 Z" fill="#000" shape-rendering="auto"/>
</svg>
</body></html>
